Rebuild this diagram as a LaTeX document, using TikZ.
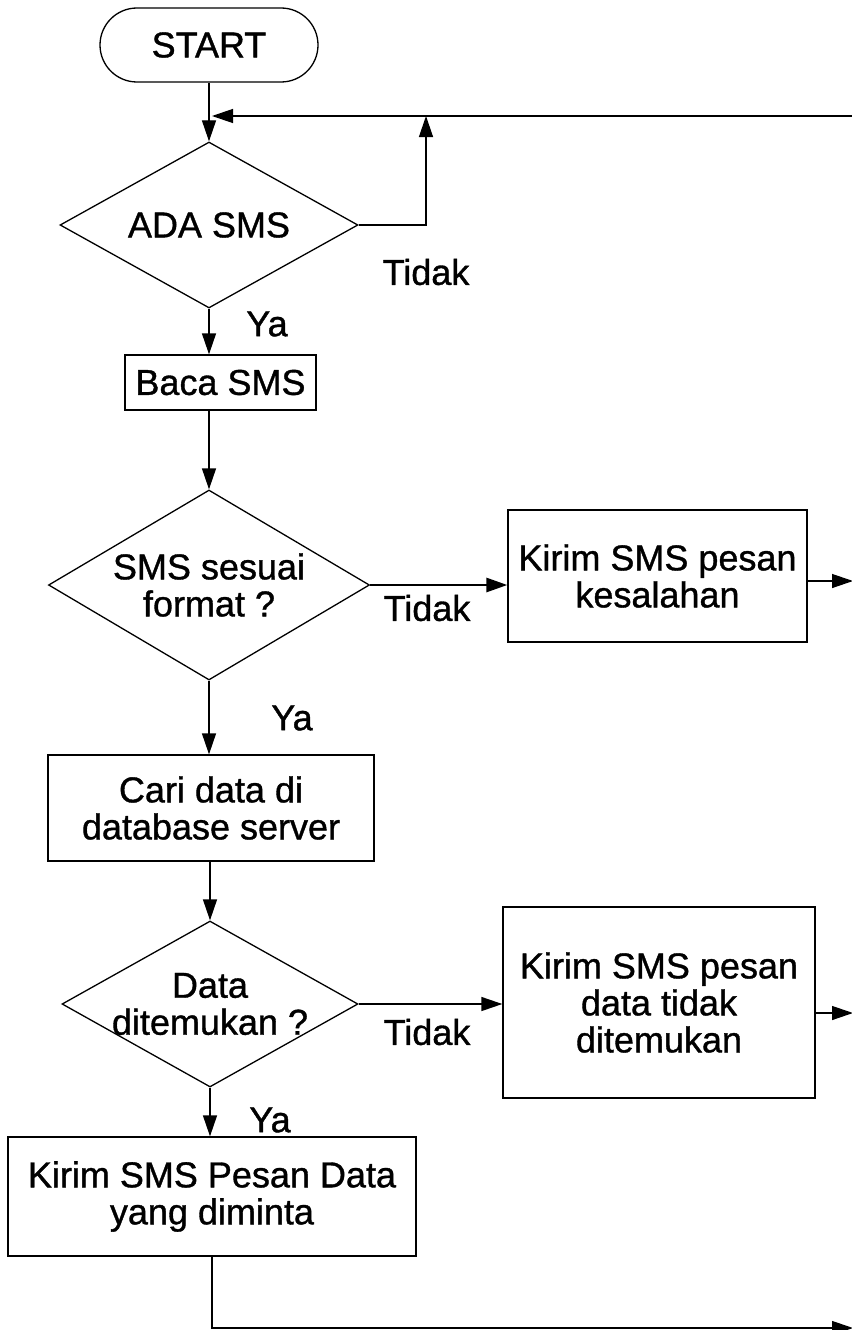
\documentclass[tikz,border=0pt]{standalone}
\usepackage{fontspec}
\setmainfont[FakeBold=1.0]{Liberation Sans}
\usetikzlibrary{shapes.geometric,arrows.meta}
\begin{document}
\begin{tikzpicture}[x=1pt,y=-1pt,
  every node/.style={font=\fontsize{36}{37}\selectfont},
  line/.style={line width=1.3pt},
  arr/.style={line, -{Triangle[length=21pt,width=14pt]}},
  terminal/.style={draw, line width=1.3pt, rectangle, rounded corners=37pt,
    minimum width=218pt, minimum height=74pt, inner sep=0pt},
  process/.style={draw, line width=1.3pt, rectangle, align=center, inner sep=0pt},
  decision/.style={draw, line width=1.3pt, diamond, inner sep=0pt},
  dtext/.style={align=center, inner sep=0pt},
  lbl/.style={inner sep=0pt}
]
\useasboundingbox (0,0) rectangle (851,1330);

% flow steps
\node[terminal] (start) at (209,45) {START};
\node[decision, minimum width=298pt, minimum height=166pt] (d1) at (209,225) {};
\node[dtext] (d1t) at (d1) {ADA SMS};
\node[process, minimum width=191pt, minimum height=55pt] (baca) at (220.5,382.5) {Baca SMS};
\node[decision, minimum width=321pt, minimum height=190pt] (d2) at (209,585) {};
\node[dtext] (d2t) at (d2) {SMS sesuai\\format ?};
\node[process, minimum width=299pt, minimum height=132pt] (kirim1) at (657.5,576) {Kirim SMS pesan\\kesalahan};
\node[process, minimum width=326pt, minimum height=106pt] (cari) at (211,808) {Cari data di\\database server};
\node[decision, minimum width=296pt, minimum height=166pt] (d3) at (210,1004) {};
\node[dtext] (d3t) at (d3) {Data\\ditemukan ?};
\node[process, minimum width=312pt, minimum height=191pt] (kirim2) at (659,1002.5) {Kirim SMS pesan\\data tidak\\ditemukan};
\node[process, minimum width=408pt, minimum height=119pt] (kirim3) at (212,1196.5) {Kirim SMS Pesan Data\\yang diminta};

% branch labels
\node[lbl] (t1) at (426,272) {Tidak};
\node[lbl] (y1) at (267,324) {Ya};
\node[lbl] (t2) at (427,608) {Tidak};
\node[lbl] (y2) at (292,718) {Ya};
\node[lbl] (t3) at (427,1032) {Tidak};
\node[lbl] (y3) at (270,1120) {Ya};

% loop-back and exit points
\coordinate (loopR) at (853,116);
\coordinate (join) at (212,116);
\coordinate (up1) at (426,116);
\coordinate (o1) at (853,581);
\coordinate (o2) at (853,1013);
\coordinate (o3) at (853,1328);

% connectors
\draw[arr] (start) -- (d1);
\draw[arr] (loopR) -- (join);
\draw[arr] (d1.east) -| (up1);
\draw[arr] (d1.south) -- (d1.south |- baca.north);
\draw[arr] (d2.north |- baca.south) -- (d2.north);
\draw[arr, line width=2.8pt] (d2.east) -- (d2.east -| kirim1.west);
\draw[arr] (o1 -| kirim1.east) -- (o1);
\draw[arr] (d2.south) -- (d2.south |- cari.north);
\draw[arr] (d3.north |- cari.south) -- (d3.north);
\draw[arr] (d3.east) -- (d3.east -| kirim2.west);
\draw[arr] (o2 -| kirim2.east) -- (o2);
\draw[arr] (d3.south) -- (d3.south |- kirim3.north);
\draw[arr] (kirim3.south) |- (o3);
\end{tikzpicture}
\end{document}
